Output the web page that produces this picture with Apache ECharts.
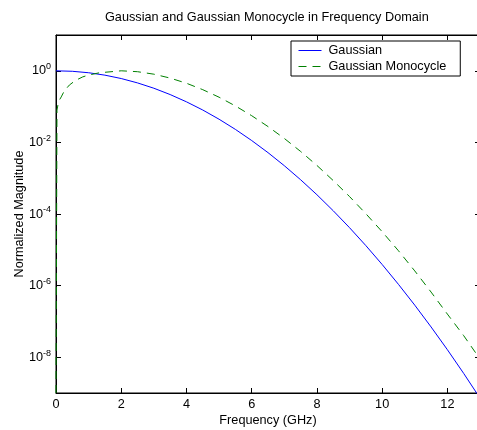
<!DOCTYPE html>
<html>
<head>
<meta charset="utf-8">
<script src="https://cdn.jsdelivr.net/npm/echarts@6/dist/echarts.min.js"></script>
<style>
  html, body { margin: 0; padding: 0; background: #fff; }
  #chart { width: 477px; height: 430px; }
</style>
</head>
<body>
<div id="chart"></div>
<script>
// frequency (GHz) and normalized magnitude
var freqGauss = [0, 0.5, 1, 1.5, 2, 2.5, 3, 3.5, 4, 4.5, 5, 5.5, 6, 6.5, 7, 7.5, 8, 8.5, 9, 9.5, 10, 10.5, 11, 11.5, 12, 12.5, 13]
var gauss = [1, 0.969, 0.883, 0.755, 0.608, 0.459, 0.326, 0.217, 0.136, 0.0802, 0.0444, 0.0231, 0.01127, 0.00518, 0.002234,
  9.06e-4, 3.45e-4, 1.233e-4, 4.15e-5, 1.31e-5, 3.89e-6, 1.084e-6, 2.84e-7, 7.0e-8, 1.62e-8, 3.52e-9, 7.2e-10]

var freqMono = [0, 0.03, 0.08, 0.16, 0.25, 0.41, 0.6, 0.82, 1, 1.33, 2, 2.5, 3, 3.5, 4, 4.5, 5, 5.5, 6, 6.5, 7, 7.5, 8, 8.5, 9, 9.5, 10, 10.5, 11, 11.5, 12, 12.5, 13]
var mono = [1e-9, 0.08, 0.14, 0.186, 0.27, 0.40, 0.54, 0.676, 0.76, 0.88, 1.0, 0.944, 0.805, 0.626, 0.449, 0.297, 0.183, 0.1045,
  0.0557, 0.0277, 0.0129, 0.00559, 0.00227, 8.6e-4, 3.07e-4, 1.02e-4, 3.2e-5, 9.4e-6, 2.57e-6, 6.6e-7, 1.6e-7, 4.0e-8, 8.9e-9]

var yTicks = [1e-8, 1e-6, 1e-4, 1e-2, 1]

var font = 'Liberation Sans'
var chart = echarts.init(document.getElementById('chart'))

function pairs(xs, ys) {
  return xs.map(function (x, i) { return [x, ys[i]] })
}

function supLabel(v) {
  var e = Math.round(Math.log10(v))
  return '{b|10}{s|' + e + '}'
}

var tickStyle = {inside: true, length: 5, lineStyle: {color: '#000', width: 1}}
var axisLine = {onZero: false, lineStyle: {color: '#000', width: 1}}

chart.setOption({
  animation: false,
  backgroundColor: '#fff',
  title: {
    text: 'Gaussian and Gaussian Monocycle in Frequency Domain',
    left: 105, top: 11, padding: 0,
    textStyle: {fontFamily: font, fontSize: 12.7, fontWeight: 'normal', color: '#000'}
  },
  legend: {
    orient: 'vertical', left: 291, top: 41,
    padding: [3, 14, 3, 7], itemGap: 3,
    itemWidth: 23, itemHeight: 14,
    itemStyle: {opacity: 0},
    lineStyle: {width: 1},
    borderColor: '#000', borderWidth: 1, backgroundColor: '#fff',
    textStyle: {fontFamily: font, fontSize: 12.7, color: '#000', padding: [0, 0, 0, 2]},
    data: ['Gaussian', 'Gaussian Monocycle']
  },
  grid: {left: 56, right: -3, top: 35, bottom: 37, containLabel: false, outerBoundsMode: 'none',
    show: true, borderColor: '#000', borderWidth: 1},
  xAxis: [
    {type: 'value', min: 0, max: 13, interval: 2, name: 'Frequency (GHz)', nameLocation: 'middle',
      nameGap: 21, nameMoveOverlap: false,
      nameTextStyle: {fontFamily: font, fontSize: 12.7, color: '#000'},
      axisLine: axisLine, axisTick: tickStyle, splitLine: {show: false},
      axisLabel: {margin: 5, showMaxLabel: false, fontFamily: font, fontSize: 12.7, color: '#000'}},
    {type: 'value', position: 'top', min: 0, max: 13, interval: 2,
      axisLine: axisLine, axisTick: tickStyle, splitLine: {show: false}, axisLabel: {show: false}}
  ],
  yAxis: [
    {type: 'log', logBase: 10, min: 1e-9, max: 10, name: 'Normalized Magnitude', nameLocation: 'middle',
      nameGap: 30, nameMoveOverlap: false,
      nameTextStyle: {fontFamily: font, fontSize: 12.7, color: '#000'},
      axisLine: axisLine, splitLine: {show: false}, minorTick: {show: false},
      axisTick: Object.assign({customValues: yTicks}, tickStyle),
      axisLabel: {customValues: yTicks, margin: 5, formatter: supLabel, color: '#000',
        rich: {
          b: {fontFamily: font, fontSize: 12.7, color: '#000', lineHeight: 14},
          s: {fontFamily: font, fontSize: 9, color: '#000', padding: [0, 0, 8, 0]}
        }}},
    {type: 'log', logBase: 10, min: 1e-9, max: 10, position: 'right',
      axisLine: axisLine, splitLine: {show: false},
      axisTick: Object.assign({customValues: yTicks}, tickStyle), axisLabel: {show: false}}
  ],
  series: [
    {name: 'Gaussian', type: 'line', symbol: 'none', clip: true, color: '#0000ff',
      lineStyle: {color: '#0000ff', width: 1}, data: pairs(freqGauss, gauss)},
    {name: 'Gaussian Monocycle', type: 'line', symbol: 'none', clip: true, color: '#008000',
      lineStyle: {color: '#008000', width: 1, type: [8, 6]}, data: pairs(freqMono, mono)}
  ]
})
</script>
</body>
</html>
